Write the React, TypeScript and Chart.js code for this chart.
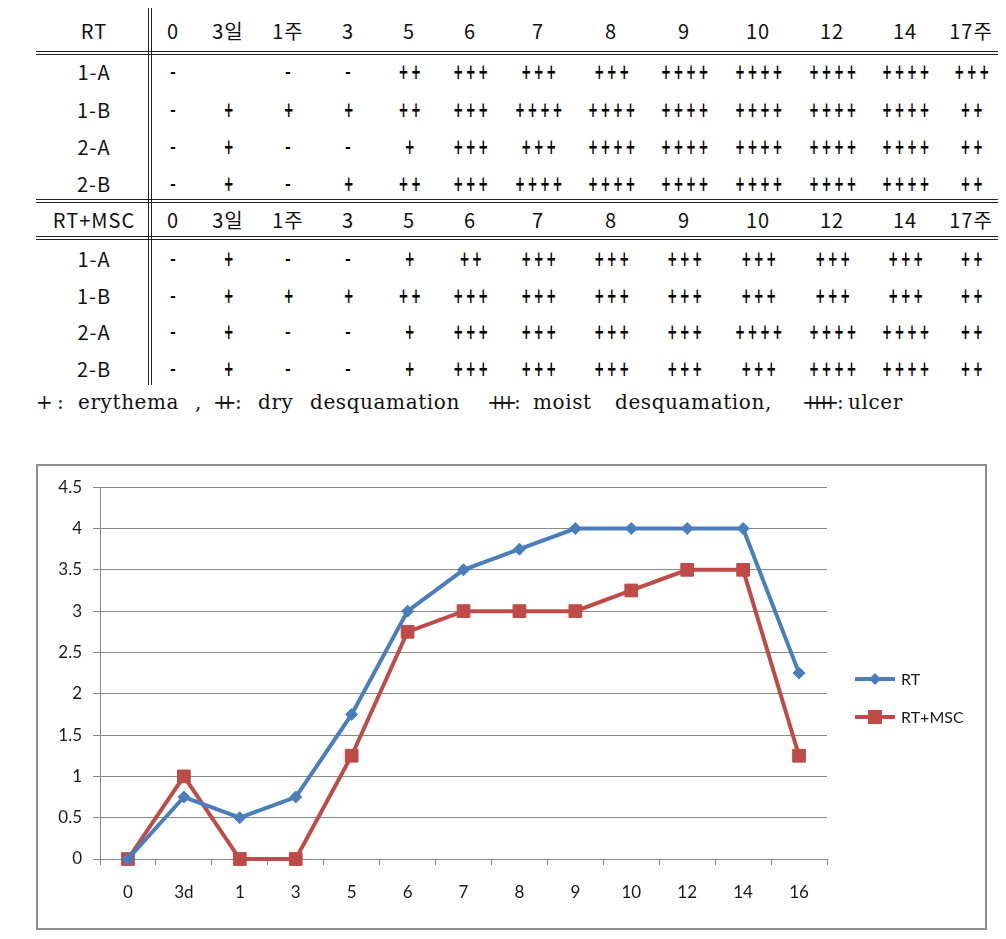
import React, { useEffect, useRef } from "react";
import { Chart, registerables } from "chart.js";

Chart.register(...registerables);

// ---------- table data ----------
const colHeadersRT = ["0", "3일", "1주", "3", "5", "6", "7", "8", "9", "10", "12", "14", "17주"];
const colHeadersMSC = ["0", "3일", "1주", "3", "5", "6", "7", "8", "9", "10", "12", "14", "17주"];
const rowLabels = ["1-A", "1-B", "2-A", "2-B"];
// number of "+" per cell; 0 = "-", null = blank
const rtGrades: (number | null)[][] = [
  [0, null, 0, 0, 2, 3, 3, 3, 4, 4, 4, 4, 3],
  [0, 1, 1, 1, 2, 3, 4, 4, 4, 4, 4, 4, 2],
  [0, 1, 0, 0, 1, 3, 3, 4, 4, 4, 4, 4, 2],
  [0, 1, 0, 1, 2, 3, 4, 4, 4, 4, 4, 4, 2],
];
const mscGrades: (number | null)[][] = [
  [0, 1, 0, 0, 1, 2, 3, 3, 3, 3, 3, 3, 2],
  [0, 1, 1, 1, 2, 3, 3, 3, 3, 3, 3, 3, 2],
  [0, 1, 0, 0, 1, 3, 3, 3, 3, 4, 4, 4, 2],
  [0, 1, 0, 0, 1, 3, 3, 3, 3, 3, 4, 4, 2],
];

// ---------- chart data ----------
const categories = ["0", "3d", "1", "3", "5", "6", "7", "8", "9", "10", "12", "14", "16"];
const rtValues = [0, 0.75, 0.5, 0.75, 1.75, 3, 3.5, 3.75, 4, 4, 4, 4, 2.25];
const mscValues = [0, 1, 0, 0, 1.25, 2.75, 3, 3, 3, 3.25, 3.5, 3.5, 1.25];
const seriesLabels = ["RT", "RT+MSC"];
const seriesColors = ["#4A7EBB", "#BE4B48"];

// layout (page coords)
const colX = [173, 228, 288, 348, 409, 470, 538, 611, 684, 758, 832, 905, 971];
const labelX = 94;
const rtHeaderY = 31;
const rtRowY = [72, 110, 147, 184];
const mscHeaderY = 220;
const mscRowY = [259, 296, 332, 369];

const tableFont = "'Noto Sans CJK KR', 'Noto Sans', sans-serif";
const plusFont = "'DejaVu Sans', sans-serif";

function Txt({ x, y, children, style }: any) {
  return (
    <div
      style={{
        position: "absolute",
        left: x - 60,
        top: y - 15,
        width: 120,
        height: 30,
        lineHeight: "30px",
        textAlign: "center",
        whiteSpace: "nowrap",
        color: "#111",
        ...style,
      }}
    >
      {children}
    </div>
  );
}

function HLine({ x1, x2, y }: any) {
  return <div style={{ position: "absolute", left: x1, top: y, width: x2 - x1, height: 1, background: "#222" }} />;
}
function VLine({ x, y1, y2 }: any) {
  return <div style={{ position: "absolute", left: x, top: y1, width: 1, height: y2 - y1, background: "#222" }} />;
}

function gradeText(n: number | null) {
  if (n === null) return "";
  if (n === 0) return "-";
  return "+".repeat(n);
}

function Block({ headers, title, headerY, rowY, grades }: any) {
  const hs = { fontFamily: tableFont, fontSize: 20, letterSpacing: "1px" };
  return (
    <>
      <Txt x={labelX} y={headerY} style={hs}>{title}</Txt>
      {headers.map((h: string, i: number) => (
        <Txt key={"h" + i} x={colX[i]} y={headerY} style={hs}>{h}</Txt>
      ))}
      {rowLabels.map((r, ri) => (
        <React.Fragment key={"r" + ri}>
          <Txt x={labelX} y={rowY[ri]} style={hs}>{r}</Txt>
          {grades[ri].map((g: number | null, ci: number) => (
            <Txt
              key={"c" + ci}
              x={colX[ci] + (g && g > 0 ? 2 : 0)}
              y={rowY[ri]}
              style={{
                fontFamily: plusFont,
                fontWeight: "bold",
                fontSize: 14,
                letterSpacing: g && g > 0 ? "3px" : "0px",
                transform: g && g > 0 ? "scale(0.85, 1.45)" : "none",
                color: "#000",
              }}
            >
              {gradeText(g)}
            </Txt>
          ))}
        </React.Fragment>
      ))}
    </>
  );
}

const legendParts: [number, string, boolean][] = [
  [36, "+", false],
  [57, ":", false],
  [78, "erythema", false],
  [195, ",", false],
  [213, "++", true],
  [235, ":", false],
  [258, "dry", false],
  [310, "desquamation", false],
  [487, "+++", true],
  [514, ":", false],
  [533, "moist", false],
  [615, "desquamation,", false],
  [802, "++++", true],
  [837, ":", false],
  [848, "ulcer", false],
];

const legendLinePlugin = {
  id: "excelLegend",
  afterDraw(chart: any) {
    const ctx = chart.ctx;
    const area = chart.chartArea;
    const x0 = area.right + 28;
    const ys = [213, 251];
    chart.data.datasets.forEach((ds: any, i: number) => {
      const y = ys[i];
      ctx.save();
      ctx.strokeStyle = ds.borderColor;
      ctx.lineWidth = 4;
      ctx.beginPath();
      ctx.moveTo(x0, y);
      ctx.lineTo(x0 + 40, y);
      ctx.stroke();
      ctx.fillStyle = ds.borderColor;
      if (ds.pointStyle === "rectRot") {
        const r = 6;
        ctx.beginPath();
        ctx.moveTo(x0 + 20, y - r);
        ctx.lineTo(x0 + 20 + r, y);
        ctx.lineTo(x0 + 20, y + r);
        ctx.lineTo(x0 + 20 - r, y);
        ctx.closePath();
        ctx.fill();
      } else {
        ctx.fillRect(x0 + 13, y - 7, 14, 14);
      }
      ctx.fillStyle = "#1a1a1a";
      ctx.font = "16px Lato, 'Open Sans', sans-serif";
      ctx.textBaseline = "middle";
      ctx.textAlign = "left";
      ctx.fillText(ds.label, x0 + 46, y + 1);
      ctx.restore();
    });
  },
};

function LineChart() {
  const ref = useRef<HTMLCanvasElement | null>(null);
  useEffect(() => {
    if (!ref.current) return;
    const grid = "#878787";
    const font = { family: "Lato, 'Open Sans', sans-serif", size: 17 };
    const chart = new Chart(ref.current, {
      type: "line",
      data: {
        labels: categories,
        datasets: [
          {
            label: seriesLabels[0],
            data: rtValues,
            borderColor: seriesColors[0],
            backgroundColor: seriesColors[0],
            borderWidth: 4,
            pointStyle: "rectRot",
            pointRadius: 6,
            pointBorderWidth: 1,
            tension: 0,
            clip: false,
          },
          {
            label: seriesLabels[1],
            data: mscValues,
            borderColor: seriesColors[1],
            backgroundColor: seriesColors[1],
            borderWidth: 4,
            pointStyle: "rect",
            pointRadius: 9,
            pointBorderWidth: 1,
            tension: 0,
            clip: false,
          },
        ],
      },
      options: {
        animation: false,
        responsive: false,
        devicePixelRatio: 1,
        layout: { padding: { top: 20, left: 0, right: 158, bottom: 0 } },
        plugins: { legend: { display: false }, tooltip: { enabled: false } },
        scales: {
          x: {
            offset: true,
            grid: { offset: true, drawOnChartArea: false, drawTicks: true, tickLength: 6, color: grid },
            border: { color: grid },
            ticks: { color: "#1a1a1a", font, padding: 17, maxRotation: 0 },
            afterFit: (s: any) => {
              s.height = 69;
            },
          },
          y: {
            min: 0,
            max: 4.5,
            grid: { color: grid, tickLength: 7 },
            border: { color: grid },
            ticks: {
              stepSize: 0.5,
              color: "#1a1a1a",
              font,
              padding: 11,
              callback: (v: any) => String(Math.round(Number(v) * 100) / 100),
            },
            afterFit: (s: any) => {
              s.width = 62;
            },
          },
        },
      },
      plugins: [legendLinePlugin],
    } as any);
    return () => chart.destroy();
  }, []);
  return <canvas ref={ref} width={947} height={462} style={{ position: "absolute", left: 0, top: 0, width: 947, height: 462 }} />;
}

export default function App() {
  return (
    <div style={{ position: "relative", width: 1006, height: 939 }}>
      <div style={{ position: "absolute", left: -8, top: -8, width: 1006, height: 939 }}>
        {/* table lines */}
        <HLine x1={36} x2={1002} y={51} />
        <HLine x1={36} x2={1002} y={54} />
        <HLine x1={36} x2={1002} y={199} />
        <HLine x1={36} x2={1002} y={202} />
        <HLine x1={36} x2={1002} y={236} />
        <HLine x1={36} x2={1002} y={239} />
        <VLine x={148} y1={7} y2={385} />
        <VLine x={151} y1={7} y2={385} />
        <Block headers={colHeadersRT} title="RT" headerY={rtHeaderY} rowY={rtRowY} grades={rtGrades} />
        <Block headers={colHeadersMSC} title="RT+MSC" headerY={mscHeaderY} rowY={mscRowY} grades={mscGrades} />
        {legendParts.map(([x, t, tight], i) => (
          <div
            key={"lg" + i}
            style={{
              position: "absolute",
              left: x,
              top: 389,
              height: 26,
              lineHeight: "26px",
              whiteSpace: "nowrap",
              fontFamily: "'DejaVu Serif', 'Liberation Serif', serif",
              fontSize: 20,
              letterSpacing: tight ? "-0.5em" : "0.6px",
              color: "#111",
            }}
          >
            {t}
          </div>
        ))}
        {/* chart frame */}
        <div
          style={{
            position: "absolute",
            left: 36,
            top: 464,
            width: 951,
            height: 466,
            border: "2px solid #8e8e8e",
            boxSizing: "border-box",
            background: "#fff",
          }}
        >
          <LineChart />
        </div>
      </div>
    </div>
  );
}
